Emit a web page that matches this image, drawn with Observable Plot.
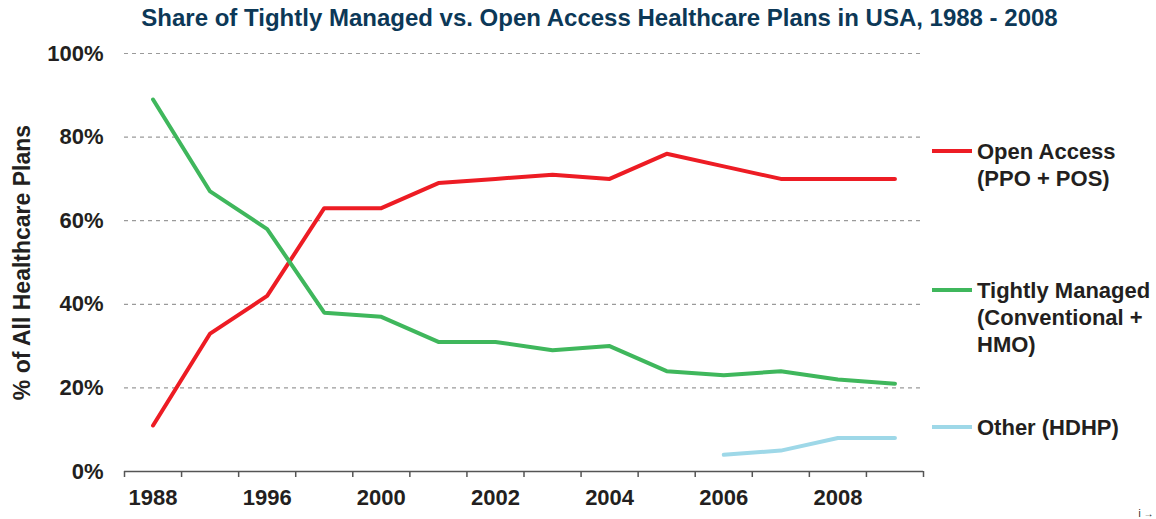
<!DOCTYPE html>
<html><head><meta charset="utf-8">
<script src="https://cdn.jsdelivr.net/npm/d3@7"></script>
<script src="https://cdn.jsdelivr.net/npm/@observablehq/plot@0.6"></script>
<style>
body{margin:0;background:#fff;font-family:"Liberation Sans",Arial,sans-serif;}
#wrap{position:relative;width:1156px;height:519px;overflow:hidden;}
#title{position:absolute;left:0;top:0;width:1199px;text-align:center;font-weight:bold;font-size:24px;color:#0c3857;line-height:36px;white-space:nowrap;}
#chart{position:absolute;left:0;top:36px;}
.leg{position:absolute;left:932px;font-weight:bold;font-size:22px;color:#231f20;line-height:27px;}
.leg .sw{position:absolute;left:0;width:40px;height:4px;top:11.5px;}
.leg .tx{position:absolute;left:45px;top:0;white-space:nowrap;}
</style></head>
<body>
<div id="wrap">
  <div id="title">Share of Tightly Managed vs. Open Access Healthcare Plans in USA, 1988 - 2008</div>
  <div id="chart"></div>
  <div class="leg" style="top:137.5px"><div class="sw" style="background:#ED1C24"></div><div class="tx">Open Access<br>(PPO + POS)</div></div>
  <div class="leg" style="top:276.5px"><div class="sw" style="background:#3FB75C"></div><div class="tx">Tightly Managed<br>(Conventional +<br>HMO)</div></div>
  <div class="leg" style="top:413.5px"><div class="sw" style="background:#9ED8E8"></div><div class="tx">Other (HDHP)</div></div>
</div>
<script>
const years = ["1988","1993","1996","1999","2000","2001","2002","2003","2004","2005","2006","2007","2008","2009"];
const openAccess = [11,33,42,63,63,69,70,71,70,76,73,70,70,70];
const tightlyManaged = [89,67,58,38,37,31,31,29,30,24,23,24,22,21];
const other = [null,null,null,null,null,null,null,null,null,null,4,5,8,8];
const tickLabels = ["1988","1996","2000","2002","2004","2006","2008"];
const yTicks = [0,20,40,60,80,100];
const gridTicks = [20,40,60,80,100];

const toRows = arr => years.map((y,i)=>({i, year:y, value:arr[i]})).filter(d=>d.value!=null);
const boundaries = d3.range(-0.5, years.length, 1);

const chart = Plot.plot({
  width: 1156, height: 483,
  marginTop: 17, marginBottom: 48, marginLeft: 124, marginRight: 233,
  style: {fontFamily: "'Liberation Sans', Arial, sans-serif", color: "#231f20", background: "white", overflow: "visible"},
  x: {type: "linear", domain: [-0.5, years.length - 0.5], axis: null},
  y: {domain: [0, 100], axis: null},
  marks: [
    Plot.ruleY(gridTicks, {stroke: "#9a9a9a", strokeDasharray: "4,4", strokeWidth: 1.2}),
    Plot.ruleY([0], {stroke: "#555", strokeWidth: 1.5}),
    Plot.axisX(boundaries, {tickSize: 6, tickFormat: () => "", stroke: "#555", strokeWidth: 1.5}),
    Plot.text(tickLabels, {x: d => years.indexOf(d), frameAnchor: "bottom", dy: 33, text: d => d, fontSize: 22, fontWeight: "bold", fill: "#231f20"}),
    Plot.text(yTicks, {y: d => d, frameAnchor: "left", textAnchor: "end", dx: -21, text: d => d + "%", fontSize: 22, fontWeight: "bold", fill: "#231f20"}),
    Plot.text(["% of All Healthcare Plans"], {frameAnchor: "left", textAnchor: "middle", rotate: -90, dx: -102, text: d => d, fontSize: 23, fontWeight: "bold", fill: "#231f20"}),
    Plot.line(toRows(openAccess), {x: "i", y: "value", stroke: "#ED1C24", strokeWidth: 4}),
    Plot.line(toRows(tightlyManaged), {x: "i", y: "value", stroke: "#3FB75C", strokeWidth: 4}),
    Plot.line(toRows(other), {x: "i", y: "value", stroke: "#9ED8E8", strokeWidth: 4})
  ]
});
document.getElementById("chart").appendChild(chart);
</script>
</body></html>
